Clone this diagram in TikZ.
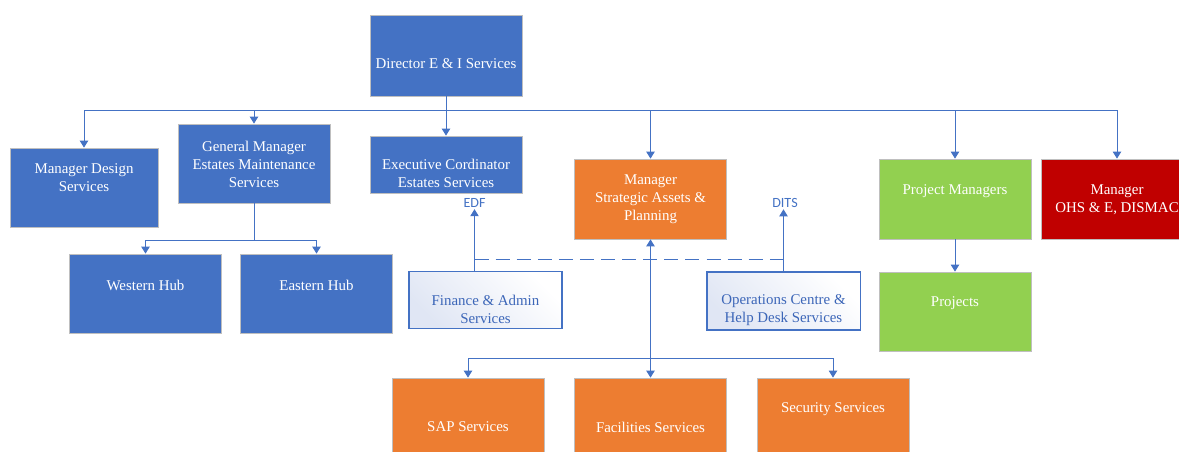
\documentclass[tikz,border=0pt]{standalone}
\usepackage{fontspec}
\setmainfont{Liberation Serif}
\newfontfamily\tagfont{Carlito}
\usetikzlibrary{arrows.meta}
\definecolor{orgblue}{HTML}{4472C4}
\definecolor{orgorange}{HTML}{ED7D31}
\definecolor{orggreen}{HTML}{92D050}
\definecolor{orgred}{HTML}{C00000}
\definecolor{edgegray}{HTML}{BFBFBF}
\definecolor{paleblue}{HTML}{E0E6F4}
\definecolor{svctext}{HTML}{3C66B8}

\begin{document}
\begin{tikzpicture}[x=0.025cm, y=-0.025cm,
  every node/.style={font=\fontsize{10.6}{12.8}\selectfont},
  box/.style={draw=edgegray, line width=0.5pt, minimum width=3.8cm, minimum height=2cm, inner sep=0pt},
  bluebox/.style={box, fill=orgblue},
  orangebox/.style={box, fill=orgorange},
  greenbox/.style={box, fill=orggreen},
  redbox/.style={box, fill=orgred},
  svcbox/.style={draw=orgblue, line width=0.75pt, top color=paleblue, bottom color=white,
    shading angle=135, minimum width=3.825cm, minimum height=1.42cm, inner sep=0pt},
  boxtext/.style={text=white, align=center, inner sep=0pt},
  svctxt/.style={text=svctext, align=center, inner sep=0pt},
  tag/.style={font=\tagfont\fontsize{10}{12}\selectfont, text=orgblue, inner sep=1pt},
  wire/.style={orgblue, line width=0.7pt},
  link/.style={wire, -{Triangle[width=6pt,length=5pt]}}]
  \useasboundingbox (0,0) rectangle (1179,452);
  \clip (0,0) rectangle (1179,452);
  % Director
  \node[bluebox, minimum height=2.025cm] (dir) at (446,55.5) {};
  \node[boxtext] (dir-t) at (446,64) {Director E \& I Services};
  % Segundo nivel
  \node[bluebox, minimum width=3.7cm, minimum height=1.975cm] (design) at (84,187.5) {};
  \node[boxtext] (design-t) at (84,178) {Manager Design\\Services};
  \node[bluebox, minimum height=1.975cm] (gm) at (254,163.5) {};
  \node[boxtext] (gm-t) at (254,164) {General Manager\\Estates Maintenance\\Services};
  \node[bluebox, minimum height=1.425cm] (exec) at (446,164.5) {};
  \node[boxtext] (exec-t) at (446,173) {Executive Cordinator\\Estates Services};
  \node[orangebox] (strat) at (650.5,199) {};
  \node[boxtext] (strat-t) at (650.5,199) {Manager\\Strategic Assets \&\\Planning};
  \node[greenbox] (pm) at (955,199) {};
  \node[boxtext] (pm-t) at (955,190.7) {Project Managers};
  \node[redbox] (ohs) at (1117,199) {};
  \node[boxtext] (ohs-t) at (1117,199.5) {Manager\\OHS \& E, DISMAC};
  % Hubs
  \foreach \n/\x/\t in {west/145.5/Western Hub, east/316.5/Eastern Hub} {
    \node[bluebox, minimum height=1.975cm] (\n) at (\x,293.5) {};
    \node[boxtext] (\n-t) at (\x,285) {\t};
  }
  % Servicios de apoyo
  \node[svcbox] (fin) at (485.5,300) {};
  \node[svctxt] (fin-t) at (485.5,309.5) {Finance \& Admin\\Services};
  \node[svcbox, minimum height=1.45cm] (ops) at (783.5,301) {};
  \node[svctxt] (ops-t) at (783.5,310) {Operations Centre \&\\Help Desk Services};
  \node[tag] (edf) at (474.5,203) {EDF};
  \node[tag] (dits) at (785,203) {DITS};
  % Proyectos
  \node[greenbox, minimum height=1.975cm] (proj) at (955,311.5) {};
  \node[boxtext] (proj-t) at (955,303) {Projects};
  % Servicios inferiores
  \foreach \n/\x/\ty/\t in {sap/468/427/SAP Services, fac/650.5/427/Facilities Services,
      sec/833/409/Security Services} {
    \node[orangebox] (\n) at (\x,418) {};
    \node[boxtext] (\n-t) at (\x,\ty) {\t};
  }
  % Lineas desde el director
  \coordinate (bus) at (446,110);
  \draw[link] (dir) -- (exec);
  \foreach \n in {design, gm, strat, pm, ohs}
    \draw[link] (bus) -| (\n.north);
  % Hubs
  \coordinate (gmbus) at (254,240);
  \draw[wire] (gm.south) -- (gmbus);
  \draw[link] (gmbus) -| (west.north);
  \draw[link] (gmbus) -| (east.north);
  % EDF y DITS
  \draw[link] (edf.south |- fin.north) -- (edf.south);
  \draw[link] (ops.north) -- (ops.north |- dits.south);
  \coordinate (dashL) at (474.5,259.3);
  \coordinate (dashR) at (783.5,259.3);
  \draw[wire, dash pattern=on 10pt off 5pt] (dashL) -- (dashR);
  % Planificacion y servicios
  \draw[link, {Triangle[width=6pt,length=5pt]}-{Triangle[width=6pt,length=5pt]}] (strat) -- (fac);
  \coordinate (sbus) at (650.5,358.7);
  \draw[link] (sbus) -| (sap.north);
  \draw[link] (sbus) -| (sec.north);
  % Proyectos
  \draw[link] (pm) -- (proj);
\end{tikzpicture}
\end{document}
